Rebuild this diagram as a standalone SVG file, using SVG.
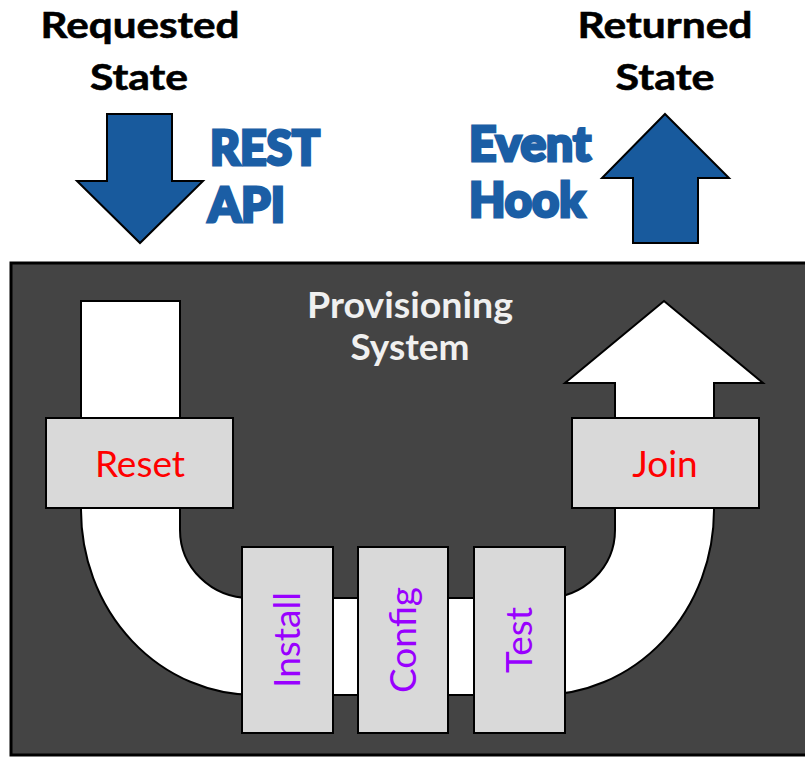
<svg xmlns="http://www.w3.org/2000/svg" width="805" height="757" viewBox="0 0 805 757">
  <style>
    .title { font-family: Lato, "Liberation Sans", sans-serif; font-weight: 700; font-size: 37px; fill: #000; stroke: #000; stroke-width: 0.6; text-anchor: middle; }
    .api { font-family: Lato, "Liberation Sans", sans-serif; font-weight: 900; font-size: 48px; fill: #1b5ea5; stroke: #1b5ea5; stroke-width: 3; stroke-linejoin: miter; }
    .bluearrow { fill: #185a9d; stroke: #000; stroke-width: 2; stroke-linejoin: miter; }
    .panel { fill: #444444; stroke: #000; stroke-width: 3; }
    .sys { font-family: Lato, "Liberation Sans", sans-serif; font-weight: 700; font-size: 37px; fill: #f0f0f0; text-anchor: middle; }
    .flow { fill: #ffffff; stroke: #000; stroke-width: 2; }
    .step { fill: #d9d9d9; stroke: #000; stroke-width: 2; }
    .red { font-family: Lato, "Liberation Sans", sans-serif; font-size: 37px; fill: #ff0000; text-anchor: middle; }
    .purple { font-family: Lato, "Liberation Sans", sans-serif; font-size: 37px; fill: #9900ff; text-anchor: middle; }
  </style>

  <!-- Inputs and outputs above the system -->
  <g id="requested-state">
    <text class="title" x="140" y="38" textLength="199" lengthAdjust="spacingAndGlyphs">Requested</text>
    <text class="title" x="139" y="90" textLength="98" lengthAdjust="spacingAndGlyphs">State</text>
  </g>
  <g id="returned-state">
    <text class="title" x="665" y="38" textLength="175" lengthAdjust="spacingAndGlyphs">Returned</text>
    <text class="title" x="665" y="90" textLength="99" lengthAdjust="spacingAndGlyphs">State</text>
  </g>
  <g id="rest-api">
    <path class="bluearrow" d="M107,114 H172 V181 H203 L140,243 L77,181 H107 Z"/>
    <text class="api" x="210" y="165" textLength="110" lengthAdjust="spacingAndGlyphs">REST</text>
    <text class="api" x="208" y="222" textLength="77" lengthAdjust="spacingAndGlyphs">API</text>
  </g>
  <g id="event-hook">
    <path class="bluearrow" d="M665,114 L729,178 H698 V243 H633 V178 H602 Z"/>
    <text class="api" x="469" y="161" textLength="122" lengthAdjust="spacingAndGlyphs">Event</text>
    <text class="api" x="469" y="217" textLength="116" lengthAdjust="spacingAndGlyphs">Hook</text>
  </g>

  <!-- Provisioning system container -->
  <g id="provisioning-system">
    <rect class="panel" x="11" y="263" width="800" height="492"/>
    <text class="sys" x="410" y="318" textLength="206" lengthAdjust="spacingAndGlyphs">Provisioning</text>
    <text class="sys" x="410" y="360">System</text>
  </g>

  <!-- U-turn flow through the system -->
  <g id="connectors">
    <path class="flow" d="M81,301 H180 V530 A70,68 0 0 0 250,598 H545 A70,68 0 0 0 615,530 V383 H565 L664,301 L763,383 H714 V510 A174,185 0 0 1 540,695 H255 A174,185 0 0 1 81,510 Z"/>
  </g>

  <g id="reset">
    <rect class="step" x="46" y="418" width="187" height="90"/>
    <text class="red" x="140" y="477">Reset</text>
  </g>
  <g id="join">
    <rect class="step" x="572" y="418" width="187" height="90"/>
    <text class="red" x="665" y="477">Join</text>
  </g>
  <g id="install">
    <rect class="step" x="242" y="547" width="91" height="186"/>
    <text class="purple" transform="translate(300,640) rotate(-90)">Install</text>
  </g>
  <g id="config">
    <rect class="step" x="358" y="547" width="90" height="186"/>
    <text class="purple" transform="translate(416,640) rotate(-90)">Config</text>
  </g>
  <g id="test">
    <rect class="step" x="474" y="547" width="91" height="186"/>
    <text class="purple" transform="translate(532,640) rotate(-90)">Test</text>
  </g>
</svg>
